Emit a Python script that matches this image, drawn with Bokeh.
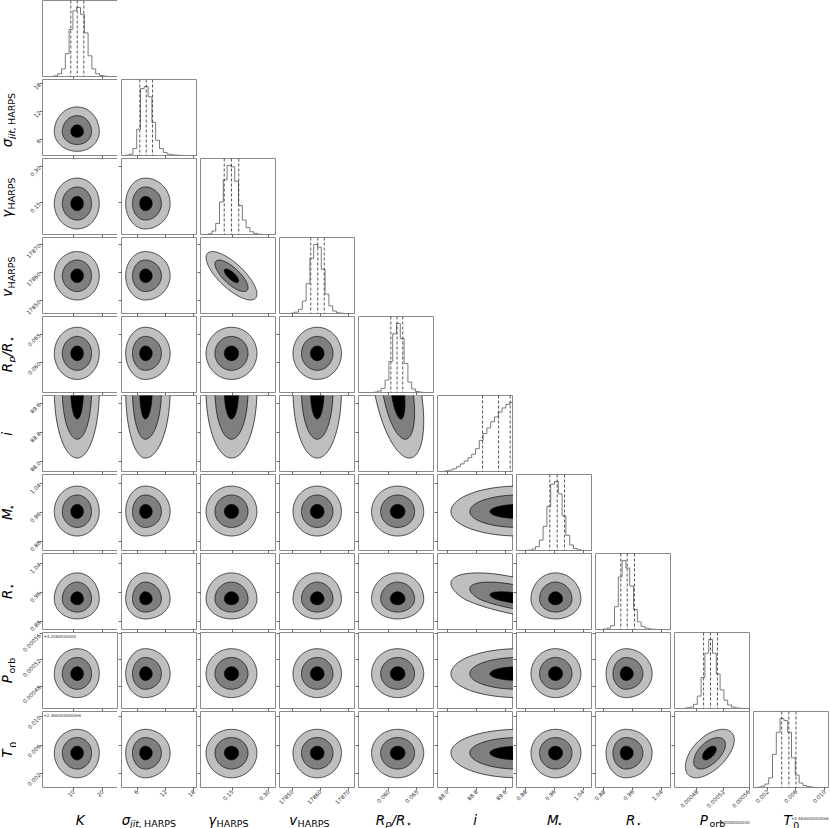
import math
import numpy as np
from bokeh.plotting import figure
from bokeh.layouts import gridplot
from bokeh.models import Range1d, FixedTicker, PrintfTickFormatter, Span, Label
from bokeh.embed import file_html
from bokeh.resources import INLINE

# ------------------------------------------------------------------ data
# axis limits of each parameter (shared by its column and its row)
RANGES = [(-0.7, 25.5), (2.66, 18.83), (0.019, 0.333), (17845.5, 17872.5),
          (0.0547, 0.0681), (87.73, 89.82), (0.8546, 1.0663), (0.8566, 1.068),
          (0.000446, 0.000561), (0.00004, 0.0107)]
TICKS = [[10, 20], [6, 12, 18], [0.15, 0.30], [17850, 17860, 17870],
         [0.060, 0.065], [88.0, 88.8, 89.6], [0.88, 0.96, 1.04],
         [0.88, 0.96, 1.04], [0.00048, 0.00052, 0.00056], [0.002, 0.006, 0.010]]
TICK_FMT = ["%d", "%d", "%.2f", "%d", "%.3f", "%.1f", "%.2f", "%.2f", "%.5f", "%.3f"]

# 16 / 50 / 84 per cent quantiles (dashed lines of the histograms)
QUANTILES = [(9.06, 11.27, 13.54), (6.55, 7.92, 9.26), (0.117, 0.147, 0.177),
             (17856.6, 17859.1, 17861.4), (0.0604, 0.0615, 0.0625),
             (88.97, 89.41, 89.73), (0.9474, 0.968, 0.9883), (0.927, 0.9448, 0.965),
             (0.00049, 0.0005005, 0.000511), (0.0040, 0.0050, 0.0060)]

# histograms, 20 bins over each range, scaled to the tallest bin
HIST_K = [0, 0, 0, 0.01, 0.04, 0.11, 0.33, 0.68, 0.95, 1.0, 0.9, 0.63, 0.3, 0.11, 0.04, 0.015, 0.005, 0, 0, 0]
HIST_SIGMA = [0, 0.005, 0.02, 0.1, 0.38, 0.97, 1.0, 0.85, 0.48, 0.22, 0.1, 0.045, 0.02, 0.01, 0.005, 0.003, 0, 0, 0, 0]
HIST_GAMMA = [0, 0, 0.01, 0.05, 0.16, 0.47, 0.79, 1.0, 0.98, 0.77, 0.42, 0.21, 0.1, 0.04, 0.015, 0.005, 0, 0, 0, 0]
HIST_V = [0, 0, 0, 0.005, 0.02, 0.06, 0.18, 0.43, 0.8, 1.0, 0.96, 0.64, 0.28, 0.11, 0.035, 0.01, 0.003, 0, 0, 0]
HIST_RP = [0, 0, 0, 0, 0.005, 0.02, 0.06, 0.18, 0.45, 0.85, 1.0, 0.78, 0.42, 0.15, 0.05, 0.015, 0.005, 0, 0, 0]
HIST_INC = [0, 0, 0.01, 0.02, 0.04, 0.07, 0.11, 0.15, 0.2, 0.25, 0.33, 0.45, 0.55, 0.63, 0.72, 0.79, 0.86, 0.92, 0.97, 1.0]
HIST_MSTAR = [0, 0, 0, 0.005, 0.02, 0.055, 0.15, 0.35, 0.64, 0.96, 1.0, 0.82, 0.5, 0.22, 0.08, 0.03, 0.01, 0, 0, 0]
HIST_RSTAR = [0, 0, 0.005, 0.02, 0.055, 0.33, 0.76, 1.0, 0.89, 0.63, 0.29, 0.11, 0.045, 0.02, 0.008, 0.003, 0, 0, 0, 0]
HIST_PORB = [0, 0, 0, 0.01, 0.02, 0.06, 0.18, 0.45, 0.8, 1.0, 0.8, 0.5, 0.27, 0.12, 0.05, 0.02, 0.008, 0.003, 0, 0]
HIST_T0 = [0, 0.005, 0.02, 0.05, 0.14, 0.48, 0.8, 1.0, 0.97, 0.8, 0.43, 0.18, 0.065, 0.03, 0.015, 0.005, 0, 0, 0, 0]
HISTS = [HIST_K, HIST_SIGMA, HIST_GAMMA, HIST_V, HIST_RP, HIST_INC,
         HIST_MSTAR, HIST_RSTAR, HIST_PORB, HIST_T0]

# 2-D contours: centre and outer-contour half extents (below / above centre)
CENTER = [11.27, 7.7, 0.147, 17858.9, 0.0616, 89.95, 0.963, 0.941, 0.0004985, 0.0049]
EXT_LO = [7.9, 4.15, 0.105, 8.6, 0.0046, 1.85, 0.068, 0.055, 0.000036, 0.0035]
EXT_HI = [7.6, 5.3, 0.105, 8.6, 0.0046, 1.85, 0.071, 0.073, 0.000038, 0.0033]
LEVEL_FRAC = [1.0, 0.65, 0.28]        # outer, middle, inner contour sizes
LEVEL_FRAC_INC = [1.0, 0.72, 0.42]    # inclination is piled up near 90 deg
CORRELATION = {(2, 3): -0.75, (4, 5): -0.45, (5, 7): -0.6, (8, 9): 0.55}

LABELS = [
    [("K", "m")],
    [("σ", "m"), ("jit,", "s"), (" HARPS", "r")],
    [("γ", "m"), ("HARPS", "r")],
    [("v", "m"), ("HARPS", "r")],
    [("R", "m"), ("p", "s"), ("/R", "m"), ("⋆", "s")],
    [("i", "m")],
    [("M", "m"), ("⋆", "s")],
    [("R", "m"), ("⋆", "s")],
    [("P", "m"), ("orb", "r")],
    [("T", "m"), ("0", "r")],
]
OFFSET_TEXT = {8: "+4.2080000000", 9: "+2.4600000000e6"}

# ------------------------------------------------------------------ style / layout
N = 10
FW, FH = 76, 76          # panel frame size
GAP = 3
B0 = 25                  # room for the y tick labels of the first column
BTM = 25                 # room for the x tick labels of the last row
LW = 16                  # width of the y-label strip
LH = 15                  # height of the x-label strip
FILLS = ["#bfbfbf", "#7f7f7f", "#000000"]
FONT = "DejaVu Sans"
TICK_SIZE = "5.5px"
MAIN_SIZE, SUB_SIZE = 13.5, 9.5
DESCENT = 0.236          # DejaVu descent, in em
X_LABEL_SHIFT = [0, -8, -9, -7, -3, 0, 0, 0, 0, 0]

T = np.linspace(0.0, 2.0 * np.pi, 241)


def char_w(ch):
    if ch in "il,.:;' ":
        return 0.32
    if ch in "jtfr":
        return 0.42
    if ch in "/":
        return 0.36
    if ch == "⋆":
        return 0.55
    if ch.isdigit():
        return 0.64
    if ch.isupper():
        return 0.72
    return 0.62


def text_w(s, size):
    return sum(char_w(ch) for ch in s) * size


def piece_style(kind):
    size = MAIN_SIZE if kind == "m" else SUB_SIZE
    style = "normal" if kind == "r" else "italic"
    return size, style


def style_axis(ax, show, idx):
    ax.ticker = FixedTicker(ticks=TICKS[idx], minor_ticks=[])
    ax.formatter = PrintfTickFormatter(format=TICK_FMT[idx])
    ax.axis_line_color = None
    ax.major_tick_out = 3
    ax.major_tick_in = 0
    ax.major_tick_line_color = "#444444"
    ax.major_tick_line_width = 0.8
    ax.minor_tick_line_color = None
    ax.major_label_orientation = math.pi / 4
    ax.major_label_standoff = 0
    if show:
        ax.major_label_text_font_size = TICK_SIZE
        ax.major_label_text_color = "#222222"
        ax.major_label_text_font = FONT
    else:
        ax.major_label_text_font_size = "0px"
        ax.major_label_text_color = None


def contour(xi, yi, k):
    rho = CORRELATION.get((xi, yi), 0.0)
    u = np.cos(T)
    w = np.sin(T)
    X = u
    Y = rho * u + math.sqrt(1 - rho * rho) * w
    fx = (LEVEL_FRAC_INC if xi == 5 else LEVEL_FRAC)[k]
    fy = (LEVEL_FRAC_INC if yi == 5 else LEVEL_FRAC)[k]
    xs = CENTER[xi] + np.where(X > 0, X * EXT_HI[xi], X * EXT_LO[xi]) * fx
    ys = CENTER[yi] + np.where(Y > 0, Y * EXT_HI[yi], Y * EXT_LO[yi]) * fy
    return xs, ys


def blank_fig(w, h, bl, br, bt, bb):
    p = figure(frame_width=w, frame_height=h, x_range=Range1d(0, 1), y_range=Range1d(0, 1),
               x_axis_location=None, y_axis_location=None,
               output_backend="svg", toolbar_location=None, tools="",
               min_border_left=bl, min_border_right=br,
               min_border_top=bt, min_border_bottom=bb)
    p.outline_line_color = None
    p.grid.visible = False
    p.background_fill_color = "white"
    p.border_fill_color = "white"
    return p


def xlabel_fig(c):
    p = blank_fig(FW, LH, B0 if c == 0 else GAP, 0, 0, 0)
    parts = LABELS[c]
    total = sum(text_w(t, piece_style(k)[0]) for t, k in parts)
    x = FW / 2 - total / 2 + X_LABEL_SHIFT[c]
    for t, k in parts:
        size, style = piece_style(k)
        base = 3.5 if k == "m" else 1.6           # baseline height above the strip bottom
        p.add_layout(Label(x=x, y=base - DESCENT * size, x_units="screen", y_units="screen",
                           text=t, text_font=FONT, text_font_size=f"{size}px",
                           text_font_style=style, text_align="left",
                           text_baseline="bottom", text_color="black"))
        x += text_w(t, size)
    if c in OFFSET_TEXT:
        p.add_layout(Label(x=FW - 1, y=5 if c == 8 else 9, x_units="screen", y_units="screen",
                           text=OFFSET_TEXT[c], text_font=FONT, text_font_size="4px",
                           text_align="right", text_baseline="bottom",
                           text_color="#333333"))
    return p


def ylabel_fig(r):
    p = blank_fig(LW, FH, 0, 0, 0, BTM if r == N - 1 else GAP)
    parts = LABELS[r]
    total = sum(text_w(t, piece_style(k)[0]) for t, k in parts)
    y = FH / 2 - total / 2
    for t, k in parts:
        size, style = piece_style(k)
        base = 11.5 if k == "m" else 13.8         # baseline distance from the strip left
        p.add_layout(Label(x=base + DESCENT * size, y=y, x_units="screen", y_units="screen",
                           text=t, angle=math.pi / 2,
                           text_font=FONT, text_font_size=f"{size}px",
                           text_font_style=style, text_align="left",
                           text_baseline="bottom", text_color="black"))
        y += text_w(t, size)
    return p


def make_panel(r, c):
    yr = (0, 1.1) if r == c else RANGES[r]
    p = figure(frame_width=FW, frame_height=FH,
               x_range=Range1d(*RANGES[c]), y_range=Range1d(*yr),
               output_backend="svg", toolbar_location=None, tools="",
               min_border_left=B0 if c == 0 else GAP,
               min_border_right=0,
               min_border_top=0,
               min_border_bottom=BTM if r == N - 1 else GAP)
    p.grid.visible = False
    p.outline_line_color = "#8a8a8a"
    p.outline_line_width = 1
    p.background_fill_color = "white"
    p.border_fill_color = "white"
    style_axis(p.xaxis[0], r == N - 1, c)
    if r == c:
        p.yaxis.visible = False
        lo, hi = RANGES[c]
        edges = np.linspace(lo, hi, len(HISTS[c]) + 1)
        h = np.array(HISTS[c], dtype=float)
        p.step(x=edges, y=np.append(h, h[-1]), mode="after",
               line_color="#7a7a7a", line_width=1)
        for q in QUANTILES[c]:
            p.add_layout(Span(location=q, dimension="height", line_color="#2a2a2a",
                              line_dash="3 2", line_width=0.8))
    else:
        style_axis(p.yaxis[0], c == 0, r)
        for k in range(3):
            xs, ys = contour(c, r, k)
            p.patch(xs, ys, fill_color=FILLS[k], line_color="black", line_width=0.7)
    if c == 0 and r in OFFSET_TEXT:
        p.add_layout(Label(x=1, y=FH - 5, x_units="screen", y_units="screen",
                           text=OFFSET_TEXT[r], text_font=FONT, text_font_size="4px",
                           text_align="left", text_baseline="bottom", text_color="#333333"))
    return p


rows = []
for r in range(N):
    row = [ylabel_fig(r) if r > 0 else None]
    row += [make_panel(r, c) if c <= r else None for c in range(N)]
    rows.append(row)
rows.append([None] + [xlabel_fig(c) for c in range(N)])

grid = gridplot(rows, toolbar_location=None)
open("out.html", "w").write(file_html(grid, INLINE, title="corner plot"))
